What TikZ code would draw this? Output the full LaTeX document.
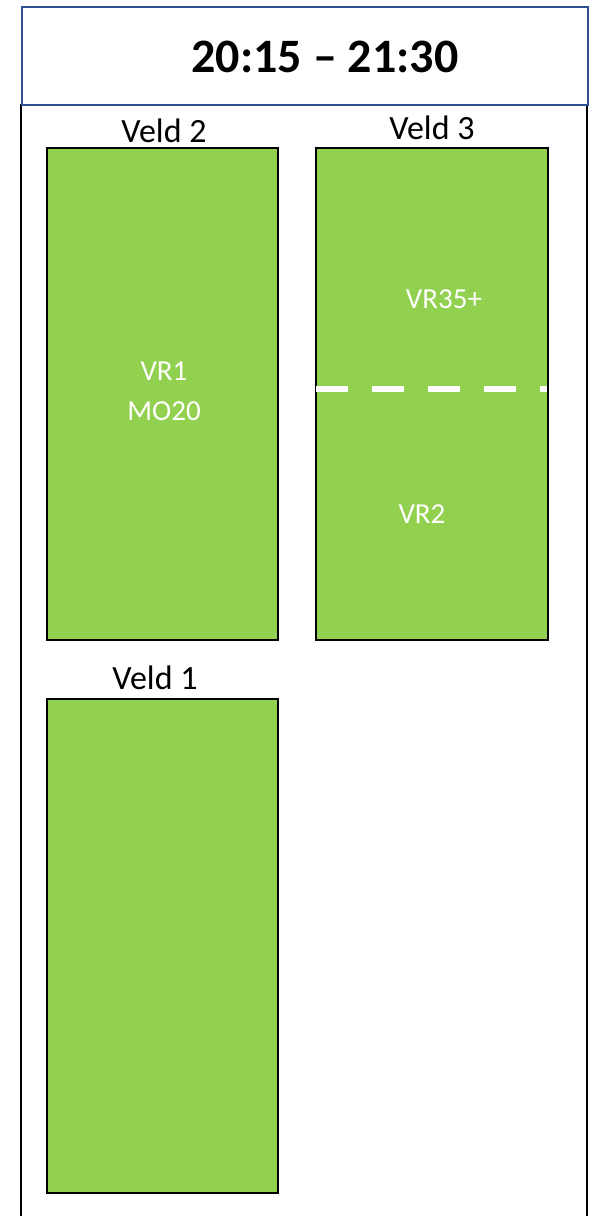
\documentclass[tikz,border=0pt]{standalone}
\usepackage{fontspec}
\setmainfont{Carlito}
\definecolor{fieldgreen}{HTML}{92D050}
\definecolor{headblue}{HTML}{2F528F}
\begin{document}
\begin{tikzpicture}[x=1pt,y=-1pt,
  field/.style={draw=black,line width=2pt,fill=fieldgreen},
  fieldlabel/.style={font=\fontsize{34}{38}\selectfont,text=black,inner sep=0pt},
  inlabel/.style={font=\fontsize{29}{40}\selectfont,text=white,inner sep=0pt},
  divider/.style={draw=white,line width=6pt,dash pattern=on 32pt off 24pt}]
\useasboundingbox (0,0) rectangle (596,1216);
\fill[white] (0,0) rectangle (596,1216);
% outer frame
\draw[black,line width=1.5pt] (21,104) -- (21,1220);
\draw[black,line width=1.5pt] (587,104) -- (587,1220);
% header
\node[draw=headblue,line width=1.5pt,minimum width=566pt,minimum height=98pt,inner sep=0pt,anchor=north west] (head) at (21,6) {};
\node[font=\bfseries\fontsize{48}{52}\selectfont,inner sep=0pt] (title) at (325,57) {20:15 – 21:30};
% fields
\draw[field] (47,148) rectangle (278,640);
\draw[field] (316,148) rectangle (548,640);
\draw[field] (47,699) rectangle (278,1193);
\coordinate (dl) at (316,389);
\coordinate (dr) at (547,389);
\draw[divider] (dl) -- (dr);
% labels
\node[fieldlabel] (v2) at (164,131) {Veld 2};
\node[fieldlabel] (v3) at (432,128) {Veld 3};
\node[fieldlabel] (v1) at (155,678) {Veld 1};
\node[inlabel,align=center] (vr1) at (164,391) {VR1\\MO20};
\node[inlabel] (vr35) at (444,299) {VR35+};
\node[inlabel] (vr2) at (422,514) {VR2};
\end{tikzpicture}
\end{document}
